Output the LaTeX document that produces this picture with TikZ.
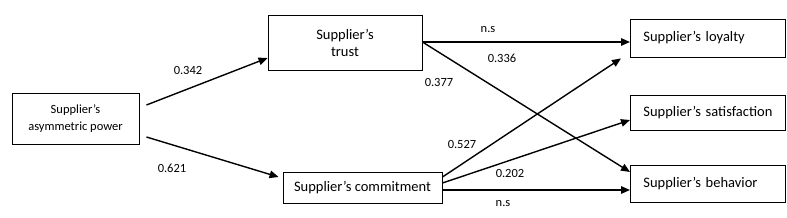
\documentclass[tikz,border=0pt]{standalone}
\usepackage{fontspec}
\setmainfont{Carlito}
\usetikzlibrary{arrows.meta,calc,positioning}

\begin{document}
\begin{tikzpicture}[x=1pt,y=-1pt,>={Triangle[length=9pt,width=7.5pt]},
  box/.style={draw,line width=0.9pt,inner sep=0pt,align=center,font=\fontsize{14.5}{17}\selectfont},
  outbox/.style={box,text width=129pt,inner xsep=13pt,align=left,anchor=west},
  lbl/.style={font=\fontsize{12.5}{14}\selectfont,inner sep=0pt},
  path/.style={->,line width=1.4pt}]
  \useasboundingbox (0,0) rectangle (787,217);
  % constructs
  \node[box,minimum width=127pt,minimum height=51pt,font=\fontsize{12.5}{17}\selectfont] (power) at (75.5,118.5) {Supplier's\\asymmetric power};
  \node[box,minimum width=154pt,minimum height=55pt] (trust) at (345,42.5) {Supplier's\\trust};
  \node[box,minimum width=159pt,minimum height=31pt] (commit) at (362.5,187.5) {Supplier's commitment};
  \node[outbox,minimum height=38pt] (loyalty) at (630,38) {Supplier's loyalty};
  \node[outbox,minimum height=35pt] (satisf) at (630,112.5) {Supplier's satisfaction};
  \node[outbox,minimum height=37pt] (behav) at (630,183.5) {Supplier's behavior};
  % paths
  \draw[path] ([xshift=7pt,yshift=13.5pt]power.east) -- ([yshift=-15.5pt]trust.west);
  \draw[path] ([xshift=7pt,yshift=-18.5pt]power.east) -- ([xshift=-4pt,yshift=10.5pt]commit.west);
  \draw[path] ([yshift=0.5pt]trust.east) -- ([yshift=0.5pt]trust.east -| loyalty.west);
  \draw[path] ([yshift=0.5pt]trust.east) -- ([yshift=11.5pt]behav.west);
  \draw[path] ([yshift=10.5pt]commit.east) -- ([xshift=-9pt,yshift=-1pt]loyalty.south west);
  \draw[path] ([yshift=4.5pt]commit.east) -- ([yshift=-7.5pt]satisf.west);
  \draw[path] ([yshift=-2.5pt]commit.east) -- ([yshift=-2.5pt]commit.east -| behav.west);
  % coefficients
  \node[lbl] (l1) at (188,70) {0.342};
  \node[lbl] (l2) at (172,168) {0.621};
  \node[lbl] (l3) at (488,30) {n.s};
  \node[lbl] (l4) at (502,58) {0.336};
  \node[lbl] (l5) at (439,82) {0.377};
  \node[lbl] (l6) at (462,144) {0.527};
  \node[lbl] (l7) at (510,173) {0.202};
  \node[lbl] (l8) at (503,204) {n.s};
\end{tikzpicture}
\end{document}
